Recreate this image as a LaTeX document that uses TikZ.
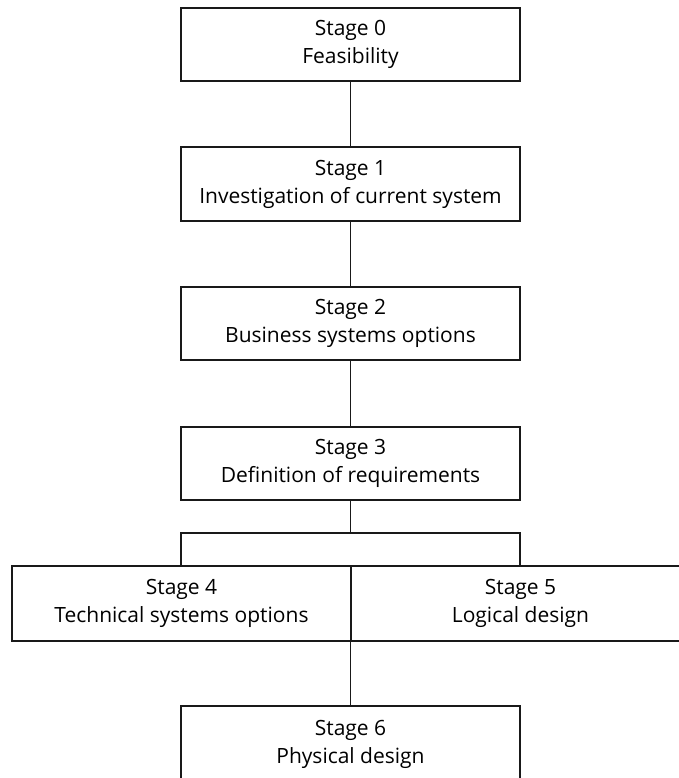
\documentclass[tikz,border=0pt]{standalone}
\usepackage{fontspec}
\setmainfont{Open Sans}
\begin{document}
\begin{tikzpicture}[x=1pt,y=-1pt,
  stagebox/.style={draw=black!90, line width=1.5pt, rectangle, inner sep=0pt,
    minimum width=339pt, align=center,
    font=\fontsize{21}{28}\selectfont,
    execute at begin node={\rule{0pt}{19pt}}},
  link/.style={draw=black!90, line width=1.5pt}]
  \useasboundingbox (0,0) rectangle (679,778);
  \clip (0,0) rectangle (679,778);

  % main chain of stages
  \node[stagebox, minimum height=73pt] (s0) at (350.5,44.5) {Stage 0\\Feasibility};
  \node[stagebox, minimum height=74pt] (s1) at (350.5,184) {Stage 1\\Investigation of current system};
  \node[stagebox, minimum height=73pt] (s2) at (350.5,323.5) {Stage 2\\Business systems options};
  \node[stagebox, minimum height=73pt] (s3) at (350.5,463.5) {Stage 3\\Definition of requirements};

  % parallel stages
  \node[stagebox, minimum height=75pt] (s4) at (181.5,603.5) {Stage 4\\Technical systems options};
  \node[stagebox, minimum height=75pt] (s5) at (520.5,603.5) {Stage 5\\Logical design};

  \node[stagebox, minimum height=76pt] (s6) at (350.5,744) {Stage 6\\Physical design};

  % connectors
  \draw[link] (s0.south) -- (s1.north);
  \draw[link] (s1.south) -- (s2.north);
  \draw[link] (s2.south) -- (s3.north);

  \coordinate (fork) at (350.5,533);
  \coordinate (forkL) at (181,533);
  \coordinate (forkR) at (520,533);
  \draw[link] (s3.south) -- (fork);
  \draw[link] (s4.north -| forkL) -- (forkL) -- (forkR) -- (s5.north -| forkR);
  \draw[link] (s6.north) -- (s6.north |- s4.south);
\end{tikzpicture}
\end{document}
